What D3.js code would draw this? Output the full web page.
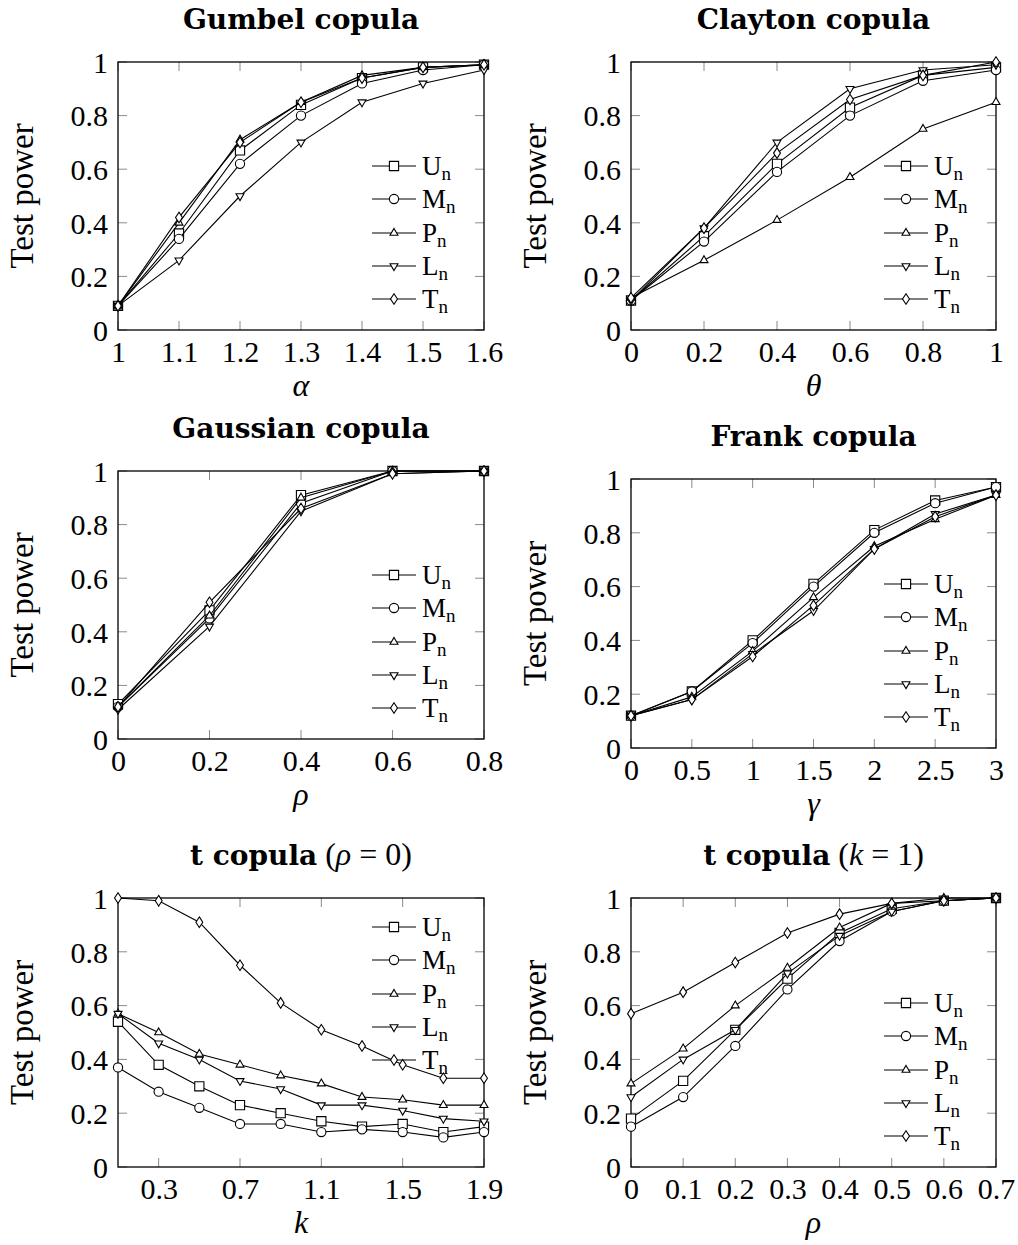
<!DOCTYPE html>
<html>
<head>
<meta charset="utf-8">
<script src="https://cdn.jsdelivr.net/npm/d3@7"></script>
<style>
  html, body { margin: 0; padding: 0; background: #fff; }
  svg { display: block; }
</style>
</head>
<body>
<svg id="chart" width="1018" height="1245"></svg>
<script>
// ---------------- DATA ----------------
const seriesNames = ["U", "M", "P", "L", "T"];
const yTicks = [0, 0.2, 0.4, 0.6, 0.8, 1];
const yTickLabels = ["0", "0.2", "0.4", "0.6", "0.8", "1"];

const gumbelX = [1, 1.1, 1.2, 1.3, 1.4, 1.5, 1.6];
const gumbelU = [0.09, 0.36, 0.67, 0.84, 0.94, 0.98, 0.99];
const gumbelM = [0.09, 0.34, 0.62, 0.80, 0.92, 0.97, 0.99];
const gumbelP = [0.09, 0.40, 0.71, 0.85, 0.95, 0.98, 0.99];
const gumbelL = [0.09, 0.26, 0.50, 0.70, 0.85, 0.92, 0.97];
const gumbelT = [0.09, 0.42, 0.70, 0.85, 0.94, 0.98, 0.99];
const gumbelTicks = [1, 1.1, 1.2, 1.3, 1.4, 1.5, 1.6];
const gumbelTickLabels = ["1", "1.1", "1.2", "1.3", "1.4", "1.5", "1.6"];

const claytonX = [0, 0.2, 0.4, 0.6, 0.8, 1];
const claytonU = [0.11, 0.35, 0.62, 0.83, 0.95, 0.98];
const claytonM = [0.11, 0.33, 0.59, 0.80, 0.93, 0.97];
const claytonP = [0.12, 0.26, 0.41, 0.57, 0.75, 0.85];
const claytonL = [0.11, 0.38, 0.70, 0.90, 0.97, 0.99];
const claytonT = [0.12, 0.38, 0.66, 0.86, 0.95, 1.00];
const claytonTicks = [0, 0.2, 0.4, 0.6, 0.8, 1];
const claytonTickLabels = ["0", "0.2", "0.4", "0.6", "0.8", "1"];

const gaussX = [0, 0.2, 0.4, 0.6, 0.8];
const gaussU = [0.13, 0.48, 0.91, 1.00, 1.00];
const gaussM = [0.12, 0.45, 0.88, 1.00, 1.00];
const gaussP = [0.12, 0.46, 0.90, 1.00, 1.00];
const gaussL = [0.11, 0.42, 0.85, 0.99, 1.00];
const gaussT = [0.12, 0.51, 0.86, 0.99, 1.00];
const gaussTicks = [0, 0.2, 0.4, 0.6, 0.8];
const gaussTickLabels = ["0", "0.2", "0.4", "0.6", "0.8"];

const frankX = [0, 0.5, 1, 1.5, 2, 2.5, 3];
const frankU = [0.12, 0.21, 0.40, 0.61, 0.81, 0.92, 0.97];
const frankM = [0.12, 0.21, 0.39, 0.60, 0.80, 0.91, 0.97];
const frankP = [0.12, 0.19, 0.36, 0.56, 0.75, 0.85, 0.94];
const frankL = [0.12, 0.18, 0.35, 0.51, 0.74, 0.87, 0.94];
const frankT = [0.12, 0.18, 0.34, 0.53, 0.74, 0.86, 0.94];
const frankTicks = [0, 0.5, 1, 1.5, 2, 2.5, 3];
const frankTickLabels = ["0", "0.5", "1", "1.5", "2", "2.5", "3"];

const tkX = [0.1, 0.3, 0.5, 0.7, 0.9, 1.1, 1.3, 1.5, 1.7, 1.9];
const tkU = [0.54, 0.38, 0.30, 0.23, 0.20, 0.17, 0.15, 0.16, 0.13, 0.15];
const tkM = [0.37, 0.28, 0.22, 0.16, 0.16, 0.13, 0.14, 0.13, 0.11, 0.13];
const tkP = [0.57, 0.50, 0.42, 0.38, 0.34, 0.31, 0.26, 0.25, 0.23, 0.23];
const tkL = [0.57, 0.46, 0.40, 0.32, 0.29, 0.23, 0.23, 0.21, 0.18, 0.17];
const tkT = [1.00, 0.99, 0.91, 0.75, 0.61, 0.51, 0.45, 0.38, 0.33, 0.33];
const tkTicks = [0.3, 0.7, 1.1, 1.5, 1.9];
const tkTickLabels = ["0.3", "0.7", "1.1", "1.5", "1.9"];

const trX = [0, 0.1, 0.2, 0.3, 0.4, 0.5, 0.6, 0.7];
const trU = [0.18, 0.32, 0.51, 0.70, 0.87, 0.96, 0.99, 1.00];
const trM = [0.15, 0.26, 0.45, 0.66, 0.84, 0.95, 0.99, 1.00];
const trP = [0.31, 0.44, 0.60, 0.74, 0.89, 0.98, 1.00, 1.00];
const trL = [0.26, 0.40, 0.51, 0.72, 0.86, 0.95, 0.99, 1.00];
const trT = [0.57, 0.65, 0.76, 0.87, 0.94, 0.98, 0.99, 1.00];
const trTicks = [0, 0.1, 0.2, 0.3, 0.4, 0.5, 0.6, 0.7];
const trTickLabels = ["0", "0.1", "0.2", "0.3", "0.4", "0.5", "0.6", "0.7"];

// ---------------- LAYOUT ----------------
const panels = [
  { title: [["Gumbel copula", "b"]], xlabel: "α", rect: [118, 62, 484, 330], xDom: [1, 1.6],
    xs: gumbelX, ys: [gumbelU, gumbelM, gumbelP, gumbelL, gumbelT], ticks: gumbelTicks, tickLabels: gumbelTickLabels, legend: "se" },
  { title: [["Clayton copula", "b"]], xlabel: "θ", rect: [631, 62, 996, 330], xDom: [0, 1],
    xs: claytonX, ys: [claytonU, claytonM, claytonP, claytonL, claytonT], ticks: claytonTicks, tickLabels: claytonTickLabels, legend: "se" },
  { title: [["Gaussian copula", "b"]], xlabel: "ρ", rect: [118, 471, 484, 739], xDom: [0, 0.8],
    xs: gaussX, ys: [gaussU, gaussM, gaussP, gaussL, gaussT], ticks: gaussTicks, tickLabels: gaussTickLabels, legend: "se" },
  { title: [["Frank copula", "b"]], xlabel: "γ", rect: [631, 479, 996, 748], xDom: [0, 3],
    xs: frankX, ys: [frankU, frankM, frankP, frankL, frankT], ticks: frankTicks, tickLabels: frankTickLabels, legend: "se" },
  { title: [["t copula", "b"], [" (", "r"], ["ρ", "i"], [" = 0)", "r"]], xlabel: "k", rect: [118, 898, 484, 1167], xDom: [0.1, 1.9],
    xs: tkX, ys: [tkU, tkM, tkP, tkL, tkT], ticks: tkTicks, tickLabels: tkTickLabels, legend: "ne" },
  { title: [["t copula", "b"], [" (", "r"], ["k", "i"], [" = 1)", "r"]], xlabel: "ρ", rect: [631, 898, 996, 1167], xDom: [0, 0.7],
    xs: trX, ys: [trU, trM, trP, trL, trT], ticks: trTicks, tickLabels: trTickLabels, legend: "se" }
];

const SERIF = '"Liberation Serif"';
const BOLD = '"DejaVu Serif"';
const MS = 4.6; // mark size

const svg = d3.select("#chart");

function markPath(kind, r) {
  const p = d3.path();
  if (kind === 0) { p.rect(-r, -r, 2 * r, 2 * r); }
  else if (kind === 1) { p.arc(0, 0, r, 0, 2 * Math.PI); }
  else if (kind === 2) {
    p.moveTo(0, -r); p.lineTo(r * 0.866, r * 0.5); p.lineTo(-r * 0.866, r * 0.5); p.closePath();
  } else if (kind === 3) {
    p.moveTo(0, r); p.lineTo(r * 0.866, -r * 0.5); p.lineTo(-r * 0.866, -r * 0.5); p.closePath();
  } else {
    p.moveTo(0, -r * 1.15); p.lineTo(r * 0.75, 0); p.lineTo(0, r * 1.15); p.lineTo(-r * 0.75, 0); p.closePath();
  }
  return p.toString();
}

panels.forEach(pn => {
  const [x0, y0, x1, y1] = pn.rect;
  const x = d3.scaleLinear().domain(pn.xDom).range([x0, x1]);
  const y = d3.scaleLinear().domain([0, 1]).range([y1, y0]);
  const g = svg.append("g");

  const tickLen = 9;
  const tg = g.append("g").attr("stroke", "#8a8a8a").attr("stroke-width", 1);
  pn.ticks.forEach(t => {
    const px = x(t);
    tg.append("line").attr("x1", px).attr("x2", px).attr("y1", y1).attr("y2", y1 - tickLen);
    tg.append("line").attr("x1", px).attr("x2", px).attr("y1", y0).attr("y2", y0 + tickLen);
  });
  yTicks.forEach(t => {
    const py = y(t);
    tg.append("line").attr("x1", x0).attr("x2", x0 + tickLen).attr("y1", py).attr("y2", py);
    tg.append("line").attr("x1", x1).attr("x2", x1 - tickLen).attr("y1", py).attr("y2", py);
  });

  const xAxis = d3.axisBottom(x).tickValues(pn.ticks).tickFormat((d, i) => pn.tickLabels[i]).tickSize(0).tickPadding(0);
  const xa = g.append("g").attr("transform", `translate(0,${y1})`).call(xAxis);
  xa.select(".domain").remove();
  xa.attr("font-family", null).attr("font-size", null);
  xa.selectAll("text").style("font-family", SERIF).style("font-size", "30px").attr("fill", "#000")
    .attr("dy", null).attr("y", 32);

  const yAxis = d3.axisLeft(y).tickValues(yTicks).tickFormat((d, i) => yTickLabels[i]).tickSize(0).tickPadding(0);
  const ya = g.append("g").attr("transform", `translate(${x0},0)`).call(yAxis);
  ya.select(".domain").remove();
  ya.attr("font-family", null).attr("font-size", null);
  ya.selectAll("text").style("font-family", SERIF).style("font-size", "30px").attr("fill", "#000")
    .attr("x", -10).attr("dy", "0.34em");

  g.append("rect").attr("x", x0).attr("y", y0).attr("width", x1 - x0).attr("height", y1 - y0)
    .attr("fill", "none").attr("stroke", "#000").attr("stroke-width", 1.3);

  const line = d3.line().x(d => x(d[0])).y(d => y(d[1]));
  pn.ys.forEach((vals, si) => {
    const pts = pn.xs.map((xv, i) => [xv, vals[i]]);
    g.append("path").attr("d", line(pts)).attr("fill", "none").attr("stroke", "#000").attr("stroke-width", 1.1);
    g.append("g").selectAll("path").data(pts).join("path")
      .attr("transform", d => `translate(${x(d[0])},${y(d[1])})`)
      .attr("d", markPath(si, MS)).attr("fill", "#fff").attr("stroke", "#000").attr("stroke-width", 1.1);
  });

  const lx0 = x1 - 112, lx1 = x1 - 68, tx = x1 - 62;
  const rowY = pn.legend === "se"
    ? [y1 - 164, y1 - 131, y1 - 97, y1 - 64, y1 - 31]
    : [y0 + 29, y0 + 62, y0 + 96, y0 + 129, y0 + 162];
  seriesNames.forEach((nm, si) => {
    const ry = rowY[si];
    g.append("line").attr("x1", lx0).attr("x2", lx1).attr("y1", ry).attr("y2", ry)
      .attr("stroke", "#000").attr("stroke-width", 1.1);
    g.append("path").attr("transform", `translate(${(lx0 + lx1) / 2},${ry})`)
      .attr("d", markPath(si, MS)).attr("fill", "#fff").attr("stroke", "#000").attr("stroke-width", 1.1);
    const t = g.append("text").attr("x", tx).attr("y", ry + 9)
      .style("font-family", SERIF).style("font-size", "27px").attr("fill", "#000");
    t.append("tspan").text(nm);
    t.append("tspan").style("font-size", "19px").attr("dy", 5).text("n");
  });

  const tt = g.append("text").attr("x", (x0 + x1) / 2).attr("y", y0 - 33)
    .attr("text-anchor", "middle").attr("fill", "#000");
  pn.title.forEach(([s, st]) => {
    const sp = tt.append("tspan").text(s);
    if (st === "b") sp.style("font-family", BOLD).style("font-weight", "bold").style("font-size", "28px");
    else if (st === "i") sp.style("font-family", SERIF).style("font-style", "italic").style("font-size", "32px");
    else sp.style("font-family", SERIF).style("font-size", "32px");
  });

  g.append("text").attr("x", (x0 + x1) / 2).attr("y", y1 + 66).attr("text-anchor", "middle")
    .style("font-family", SERIF).style("font-style", "italic").style("font-size", "32px").attr("fill", "#000")
    .text(pn.xlabel);

  g.append("text").attr("transform", `translate(${x0 - 85},${(y0 + y1) / 2}) rotate(-90)`)
    .attr("text-anchor", "middle").style("font-family", SERIF).style("font-size", "33px").attr("fill", "#000")
    .text("Test power");
});
</script>
</body>
</html>
